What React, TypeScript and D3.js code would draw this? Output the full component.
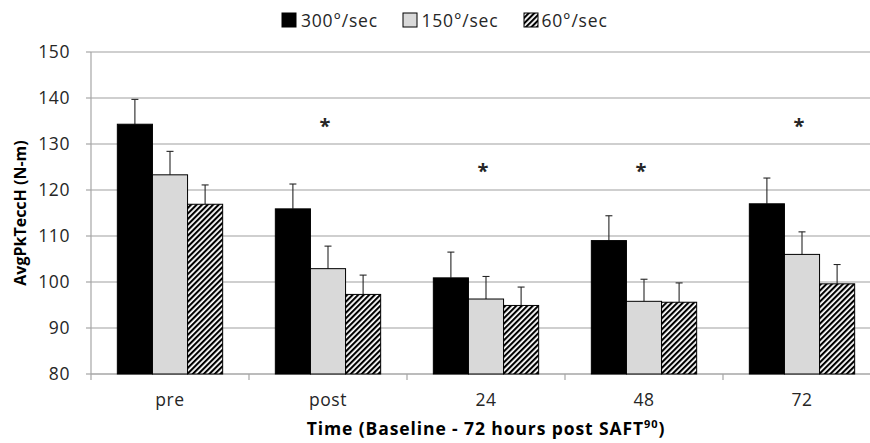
import React from "react";
import * as d3 from "d3";

const categories = ["pre", "post", "24", "48", "72"];
const seriesNames = ["300°/sec", "150°/sec", "60°/sec"];
const means300 = [134.3, 115.9, 100.9, 109.0, 117.0];
const means150 = [123.3, 102.9, 96.3, 95.8, 106.0];
const means60 = [116.9, 97.3, 94.9, 95.6, 99.6];
const sd300 = [5.4, 5.4, 5.6, 5.4, 5.6];
const sd150 = [5.1, 4.9, 4.9, 4.8, 4.9];
const sd60 = [4.2, 4.2, 4.0, 4.2, 4.2];
const yTicks = [80, 90, 100, 110, 120, 130, 140, 150];
const asteriskCats = ["post", "24", "48", "72"];
const asteriskVals = [134.8, 124.9, 124.9, 134.8];

const W = 870;
const H = 443;
const FONT = "'Open Sans', sans-serif";

export default function App() {
  const plotLeft = 91;
  const plotRight = 881;
  const plotTop = 52;
  const plotBottom = 374;

  const x0 = d3.scaleBand<string>().domain(categories).range([plotLeft, plotRight]).paddingInner(0).paddingOuter(0);
  const x1 = d3.scaleBand<string>().domain(seriesNames).range([0, x0.bandwidth()]).paddingInner(0).paddingOuter(0.75);
  const y = d3.scaleLinear().domain([80, 150]).range([plotBottom, plotTop]);

  const means = [means300, means150, means60];
  const sds = [sd300, sd150, sd60];
  const fills = ["#000000", "#d9d9d9", "url(#hatch)"];

  const boundaries = categories.map((c) => x0(c) as number);

  return (
    <svg width={W} height={H} style={{ position: "absolute", left: 0, top: 0, background: "#fff" }} fontFamily={FONT}>
      <defs>
        <pattern id="hatch" patternUnits="userSpaceOnUse" width="3.9" height="3.9" patternTransform="rotate(45)">
          <rect x="0" y="0" width="3.9" height="3.9" fill="#fff" />
          <rect x="0" y="0" width="2.1" height="3.9" fill="#000" />
        </pattern>
      </defs>
      <rect x={0} y={0} width={W} height={H} fill="#fff" />

      {/* gridlines */}
      {yTicks.map((t) => (
        <line key={"g" + t} x1={plotLeft} x2={W} y1={y(t)} y2={y(t)} stroke={t === 80 ? "#a6a6a6" : "#bfbfbf"} strokeWidth={1.3} />
      ))}
      {/* y axis */}
      <line x1={plotLeft} x2={plotLeft} y1={plotTop} y2={plotBottom} stroke="#a6a6a6" strokeWidth={1.2} />
      {yTicks.map((t) => (
        <g key={"yt" + t}>
          <line x1={plotLeft - 5} x2={plotLeft} y1={y(t)} y2={y(t)} stroke="#a6a6a6" strokeWidth={1.2} />
          <text x={70} y={y(t)} dy="0.36em" textAnchor="end" fontSize={17.5} letterSpacing={0.6} fill="#262626">
            {t}
          </text>
        </g>
      ))}
      {/* x ticks at boundaries */}
      {boundaries.map((b, i) => (
        <line key={"xt" + i} x1={b} x2={b} y1={plotBottom} y2={plotBottom + 6} stroke="#a6a6a6" strokeWidth={1.2} />
      ))}

      {/* bars */}
      {categories.map((c, ci) => (
        <g key={"grp" + c} transform={`translate(${x0(c)},0)`}>
          {seriesNames.map((s, si) => {
            const v = means[si][ci];
            const bx = x1(s) as number;
            const bw = x1.bandwidth();
            const cx = bx + bw / 2;
            const top = y(v);
            const et = y(v + sds[si][ci]);
            return (
              <g key={s}>
                <line x1={cx} x2={cx} y1={top} y2={et} stroke="#262626" strokeWidth={1.1} />
                <line x1={cx - 3.5} x2={cx + 3.5} y1={et} y2={et} stroke="#262626" strokeWidth={1.1} />
                <rect x={bx} y={top} width={bw} height={plotBottom - top} fill={fills[si]} stroke="#000" strokeWidth={1} />
              </g>
            );
          })}
        </g>
      ))}

      {/* asterisks */}
      {asteriskCats.map((c, i) => (
        <text key={"ast" + c} x={(x0(c) as number) + x0.bandwidth() / 2 - 3} y={y(asteriskVals[i]) + 11} textAnchor="middle" fontSize={20} fontWeight="bold" fill="#262626">
          *
        </text>
      ))}

      {/* x labels */}
      {categories.map((c) => (
        <text key={"xl" + c} x={(x0(c) as number) + x0.bandwidth() / 2} y={406} textAnchor="middle" fontSize={17.5} letterSpacing={0.6} fill="#262626">
          {c}
        </text>
      ))}

      {/* x title */}
      <text x={(plotLeft + plotRight) / 2} y={435} textAnchor="middle" fontSize={17.5} letterSpacing={0.9} fontWeight="bold" fill="#000">
        Time (Baseline - 72 hours post SAFT
        <tspan fontSize={11} dy={-7}>90</tspan>
        <tspan dy={7}>)</tspan>
      </text>

      {/* y title */}
      <text transform={`translate(26,${(plotTop + plotBottom) / 2}) rotate(-90)`} textAnchor="middle" fontSize={16} fontWeight="bold" fill="#000">
        AvgPkTeccH (N-m)
      </text>

      {/* legend */}
      {[
        { sx: 282, tx: 301 },
        { sx: 403, tx: 421.5 },
        { sx: 524, tx: 541.5 },
      ].map((p, i) => (
        <g key={"lg" + i}>
          <rect x={p.sx} y={13} width={14} height={14} fill={fills[i]} stroke="#000" strokeWidth={1} />
          <text x={p.tx} y={26.5} fontSize={17.5} letterSpacing={0.8} fill="#262626">
            {seriesNames[i]}
          </text>
        </g>
      ))}
    </svg>
  );
}
